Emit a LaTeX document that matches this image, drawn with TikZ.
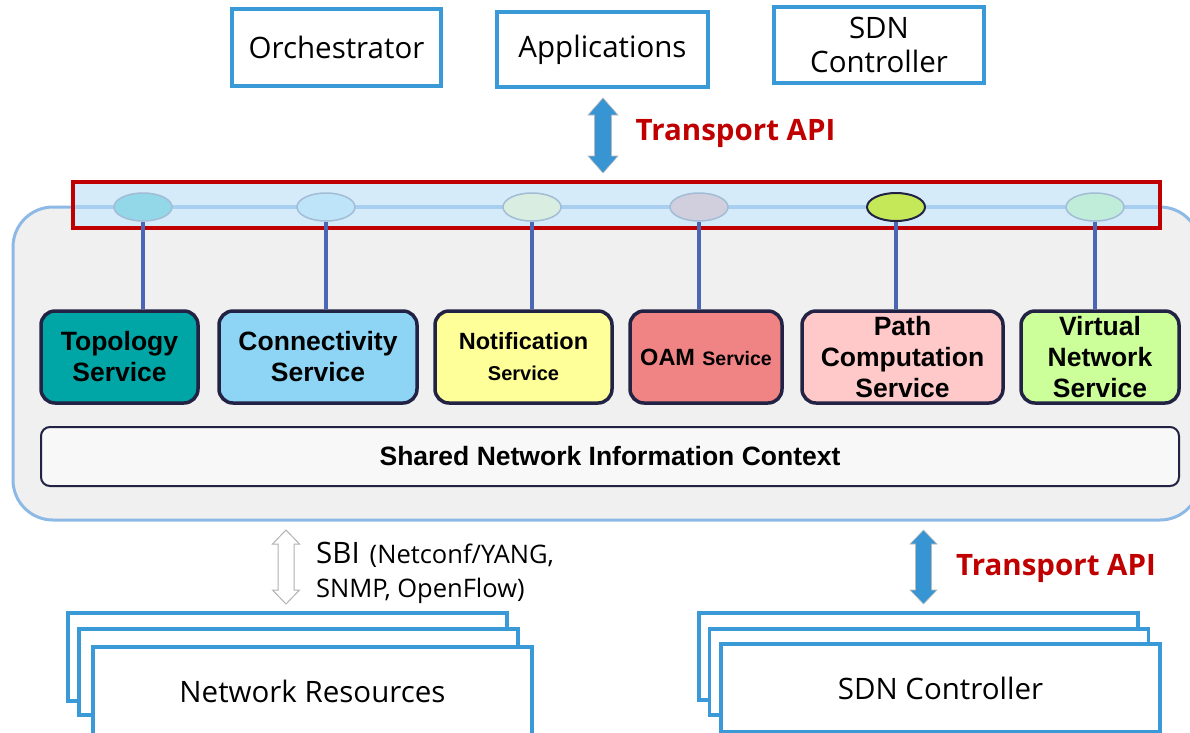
\documentclass[tikz,border=0pt]{standalone}
\usepackage{fontspec}
\setmainfont{Open Sans}
\newfontfamily\arialfont{Liberation Sans}
\usetikzlibrary{shapes.geometric}

\definecolor{boxblue}{HTML}{3A9AD8}
\definecolor{apired}{HTML}{C00000}
\definecolor{arrowblue}{HTML}{3895D3}
\definecolor{ctxfill}{HTML}{F0F0F0}
\definecolor{ctxedge}{HTML}{8DB9E7}
\definecolor{busfill}{HTML}{D5EBFA}
\definecolor{busrail}{HTML}{A8CFF0}
\definecolor{stemblue}{HTML}{4A66B4}
\definecolor{svcedge}{HTML}{222244}
\definecolor{portedge}{HTML}{A3BCD6}
\definecolor{portA}{HTML}{93D8E8}
\definecolor{portB}{HTML}{BDE4F9}
\definecolor{portC}{HTML}{D9EEE0}
\definecolor{portD}{HTML}{D1CFDD}
\definecolor{portE}{HTML}{C4E858}
\definecolor{portF}{HTML}{BFEDD9}
\definecolor{topofill}{HTML}{00A5A5}
\definecolor{connfill}{HTML}{8ED5F5}
\definecolor{notiffill}{HTML}{FFFF99}
\definecolor{oamfill}{HTML}{F08383}
\definecolor{pathfill}{HTML}{FFC9C9}
\definecolor{virtfill}{HTML}{CCFF99}
\definecolor{sharedfill}{HTML}{F8F8F8}

\tikzset{
  pics/dblarrow/.style n args={4}{code={
    % #1 length, #2 head length, #3 head half width, #4 shaft half width
    \path[pic actions] (0,0) -- (#3,#2) -- (#4,#2) -- (#4,#1-#2) -- (#3,#1-#2)
      -- (0,#1) -- (-#3,#1-#2) -- (-#4,#1-#2) -- (-#4,#2) -- (-#3,#2) -- cycle;
  }},
  topbox/.style={draw=boxblue, line width=3.5, fill=white, align=center,
    inner sep=0, font=\fontsize{29.5}{37}\selectfont},
  stackbox/.style={draw=boxblue, line width=3.5, fill=white,
    minimum width=439, inner sep=0, font=\fontsize{29.5}{35}\selectfont},
  apilabel/.style={text=apired, font=\bfseries\fontsize{29.5}{35}\selectfont},
  port/.style={ellipse, draw=portedge, line width=1.5, minimum width=58,
    minimum height=28, inner sep=0},
  stem/.style={draw=stemblue, line width=4.5},
  svc/.style={rectangle, rounded corners=14, draw=svcedge, line width=3.5,
    minimum height=92, align=center, inner sep=0,
    font=\arialfont\bfseries\fontsize{26.5}{31}\selectfont},
}

\begin{document}
\begin{tikzpicture}[x=1pt,y=-1pt]
\useasboundingbox (0,0) rectangle (1190,732);

% client layer
\node[topbox, minimum width=209, minimum height=77] (orch) at (336.5,47.5) {Orchestrator};
\node[topbox, minimum width=211, minimum height=75] (apps) at (602.5,49.5) {Applications};
\node[topbox, minimum width=210, minimum height=76] (sdntop) at (879,45) {\raisebox{-3pt}{SDN}\\Controller};

% northbound interface
\pic[fill=arrowblue, draw=gray!55, line width=0.6] at (603,98) {dblarrow={75}{17}{15}{8.5}};
\node[apilabel] (api1) at (735.5,133) {Transport API};

% controller core
\node[rectangle, rounded corners=40, fill=ctxfill, draw=ctxedge, line width=3,
  minimum width=1187, minimum height=313, inner sep=0] (core) at (606.5,363.5) {};

% service access bus
\node[rectangle, fill=busfill, minimum width=1087, minimum height=46, inner sep=0]
  (bus) at (616.5,205) {};
\coordinate (railL) at (75,207);
\coordinate (railR) at (1158,207);
\draw[busrail, line width=4] (railL) -- (railR);

\node[port, fill=portA] (e1) at (143,207) {};
\node[port, fill=portB] (e2) at (326,207) {};
\node[port, fill=portC] (e3) at (532,207) {};
\node[port, fill=portD] (e4) at (699,207) {};
\node[port, fill=portE, draw=svcedge, line width=2] (e5) at (896,207) {};
\node[port, fill=portF] (e6) at (1095,207) {};

\draw[apired, line width=4] (bus.north west) rectangle (bus.south east);

% services
\node[svc, fill=topofill, minimum width=157] (topo) at (119.5,357) {Topology\\Service};
\node[svc, fill=connfill, minimum width=198] (conn) at (318,357) {Connectivity\\Service};
\node[svc, fill=notiffill, minimum width=177] (notif) at (523.5,357)
  {{\fontsize{23.5}{29}\selectfont Notification}\\{\fontsize{20}{29}\selectfont Service}};
\node[svc, fill=oamfill, minimum width=152] (oam) at (706,357)
  {{\fontsize{23.5}{29}\selectfont OAM} {\fontsize{19.5}{29}\selectfont Service}};
\node[svc, fill=pathfill, minimum width=201] (path) at (902.5,357) {Path\\Computation\\Service};
\node[svc, fill=virtfill, minimum width=158] (virt) at (1100,357) {Virtual\\Network\\Service};

\draw[stem] (e1.south) -- (e1.south |- topo.north);
\draw[stem] (e2.south) -- (e2.south |- conn.north);
\draw[stem] (e3.south) -- (e3.south |- notif.north);
\draw[stem] (e4.south) -- (e4.south |- oam.north);
\draw[stem] (e5.south) -- (e5.south |- path.north);
\draw[stem] (e6.south) -- (e6.south |- virt.north);

\node[rectangle, rounded corners=9, fill=sharedfill, draw=svcedge,
  line width=2, minimum width=1138, minimum height=59, inner sep=0,
  font=\arialfont\bfseries\fontsize{26.5}{31}\selectfont] (shared) at (610,456.5)
  {Shared Network Information Context};

% southbound interface
\pic[fill=white, draw=gray!60, line width=1] at (286,530) {dblarrow={74}{14}{13.5}{8}};
\node[anchor=base west, inner sep=0] (sbi1) at (316,563)
  {{\fontsize{29.5}{35}\selectfont SBI}\hspace{10pt}{\fontsize{25.5}{30}\selectfont(Netconf/YANG,}};
\node[anchor=base west, inner sep=0, font=\fontsize{25.5}{30}\selectfont] (sbi2) at (316,597)
  {SNMP, OpenFlow)};

\node[stackbox, minimum height=88] (nr3) at (287.5,657) {};
\node[stackbox, minimum height=86] (nr2) at (298.5,672) {};
\node[stackbox, minimum height=88] (nr1) at (312.5,691) {Network Resources};

% east-west interface
\pic[fill=arrowblue, draw=gray!55, line width=0.6] at (923.5,530) {dblarrow={74}{14}{13.5}{8}};
\node[apilabel] (api2) at (1056,568) {Transport API};

\node[stackbox, minimum height=87] (sc3) at (918.5,656.5) {};
\node[stackbox, minimum height=86] (sc2) at (929,672) {};
\node[stackbox, minimum height=88] (sc1) at (940.5,688) {SDN Controller};

\end{tikzpicture}
\end{document}
